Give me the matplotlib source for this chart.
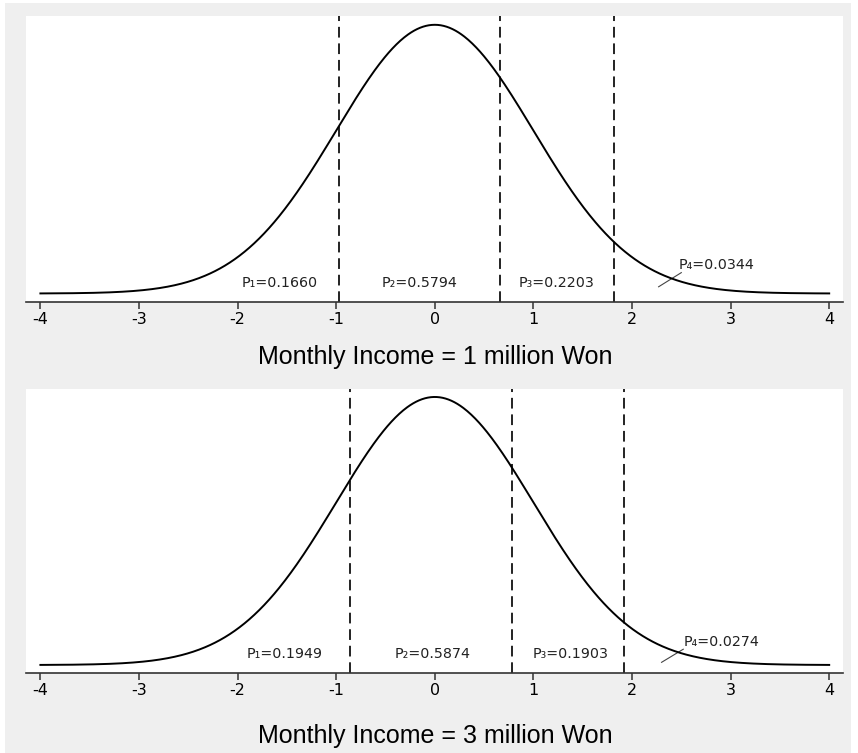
import numpy as np
import matplotlib
matplotlib.use("Agg")
import matplotlib.pyplot as plt
from matplotlib.patches import Rectangle

# ---- data ----
titles = ["Monthly Income = 1 million Won", "Monthly Income = 3 million Won"]
cutoffs = [[-0.970, 0.660, 1.820], [-0.860, 0.780, 1.920]]
probs = [[0.1660, 0.5794, 0.2203, 0.0344], [0.1949, 0.5874, 0.1903, 0.0274]]
label_x = [[-1.57, -0.15, 1.24, 2.86], [-1.52, -0.02, 1.38, 2.91]]
xticks = [-4, -3, -2, -1, 0, 1, 2, 3, 4]

x = np.linspace(-4, 4, 801)
density = np.exp(-x ** 2 / 2) / np.sqrt(2 * np.pi)

fig = plt.figure(figsize=(8.58, 7.53), dpi=100, facecolor="white")
fig.patches.append(Rectangle((5 / 858, 0), 846 / 858, 750 / 753, transform=fig.transFigure,
                             facecolor="#efefef", edgecolor="none", zorder=-10))

layouts = [
    dict(rect=[26 / 858, 1 - 302 / 753, 817 / 858, 286 / 753], ylim=(-0.0126, 0.412),
         title_y=1 - 357 / 753, label_y=0.0160, p4_y=0.0425, lead=((2.27, 0.0100), (2.50, 0.0310))),
    dict(rect=[26 / 858, 1 - 673 / 753, 817 / 858, 284 / 753], ylim=(-0.0119, 0.4108),
         title_y=1 - 736 / 753, label_y=0.0170, p4_y=0.0340, lead=((2.30, 0.0040), (2.52, 0.0235))),
]

for i, lay in enumerate(layouts):
    ax = fig.add_axes(lay["rect"])
    ax.set_facecolor("white")
    ax.plot(x, density, color="black", lw=1.4, zorder=3)
    for c in cutoffs[i]:
        ax.axvline(c, color="#222222", lw=1.4, ls=(0, (5.5, 3)), zorder=2)
    for j in range(3):
        ax.text(label_x[i][j], lay["label_y"], f"P{'₁₂₃'[j]}={probs[i][j]:.4f}",
                ha="center", va="center", fontsize=10.3, family="DejaVu Sans", color="#222222")
    ax.text(label_x[i][3], lay["p4_y"], f"P₄={probs[i][3]:.4f}", ha="center", va="center",
            fontsize=10.3, family="DejaVu Sans", color="#222222")
    (x0, y0), (x1, y1) = lay["lead"]
    ax.plot([x0, x1], [y0, y1], color="#444444", lw=0.8)
    ax.set_xlim(-4.146, 4.14)
    ax.set_ylim(*lay["ylim"])
    ax.set_yticks([])
    ax.set_xticks(xticks)
    ax.set_xticklabels([str(t) for t in xticks], fontsize=11.5, family="DejaVu Sans")
    for s in ["top", "left", "right"]:
        ax.spines[s].set_visible(False)
    ax.spines["bottom"].set_color("#333333")
    ax.spines["bottom"].set_linewidth(1.2)
    ax.tick_params(axis="x", direction="out", length=5, width=1.1, color="#333333", pad=2)
    fig.text(435 / 858, lay["title_y"], titles[i], ha="center", va="center",
             fontsize=18, family="Liberation Sans")

fig.savefig("out.png", dpi=100, facecolor=fig.get_facecolor())
